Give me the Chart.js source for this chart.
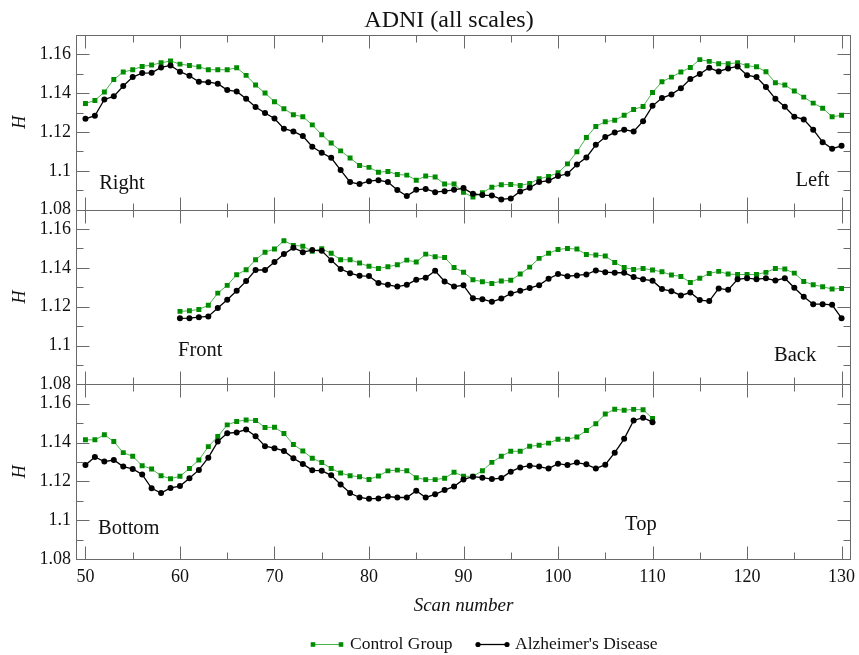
<!DOCTYPE html>
<html>
<head>
<meta charset="utf-8">
<title>ADNI (all scales)</title>
<script src="https://cdn.jsdelivr.net/npm/chart.js@4/dist/chart.umd.min.js"></script>
<style>
  html, body { margin: 0; padding: 0; background: #ffffff; }
  canvas { display: block; }
</style>
</head>
<body>
<canvas id="chart" width="859" height="655"></canvas>
<script>
// Scan numbers covered by each view
const scansRightLeft = [50,51,52,53,54,55,56,57,58,59,60,61,62,63,64,65,66,67,68,69,70,71,72,73,74,75,76,77,78,79,80,81,82,83,84,85,86,87,88,89,90,91,92,93,94,95,96,97,98,99,100,101,102,103,104,105,106,107,108,109,110,111,112,113,114,115,116,117,118,119,120,121,122,123,124,125,126,127,128,129,130];
const scansFrontBack = [60,61,62,63,64,65,66,67,68,69,70,71,72,73,74,75,76,77,78,79,80,81,82,83,84,85,86,87,88,89,90,91,92,93,94,95,96,97,98,99,100,101,102,103,104,105,106,107,108,109,110,111,112,113,114,115,116,117,118,119,120,121,122,123,124,125,126,127,128,129,130];
const scansBottomTop = [50,51,52,53,54,55,56,57,58,59,60,61,62,63,64,65,66,67,68,69,70,71,72,73,74,75,76,77,78,79,80,81,82,83,84,85,86,87,88,89,90,91,92,93,94,95,96,97,98,99,100,101,102,103,104,105,106,107,108,109,110];

// Hurst exponent H, right -> left direction
const controlRightLeft = [1.1347,1.1363,1.1406,1.1471,1.1509,1.1521,1.1538,1.1545,1.1557,1.1566,1.1550,1.1543,1.1536,1.1521,1.1521,1.1521,1.1531,1.1492,1.1442,1.1401,1.1356,1.1320,1.1289,1.1279,1.1237,1.1186,1.1143,1.1103,1.1066,1.1028,1.1018,1.0993,1.0997,1.0981,1.0978,1.0952,1.0973,1.0968,1.0932,1.0932,1.0889,1.0865,1.0887,1.0916,1.0928,1.0930,1.0925,1.0935,1.0959,1.0971,1.0990,1.1036,1.1098,1.1172,1.1229,1.1253,1.1261,1.1286,1.1316,1.1332,1.1404,1.1459,1.1483,1.1509,1.1533,1.1573,1.1564,1.1552,1.1552,1.1557,1.1542,1.1536,1.1511,1.1454,1.1442,1.1411,1.1380,1.1349,1.1323,1.1279,1.1286];
const adRightLeft = [1.1268,1.1284,1.1368,1.1384,1.1437,1.1483,1.1504,1.1505,1.1533,1.1543,1.1511,1.1490,1.1459,1.1457,1.1449,1.1416,1.1409,1.1371,1.1329,1.1298,1.1270,1.1217,1.1203,1.1179,1.1124,1.1093,1.1067,1.1004,1.0942,1.0932,1.0947,1.0952,1.0942,1.0901,1.0870,1.0902,1.0907,1.0890,1.0895,1.0902,1.0911,1.0882,1.0875,1.0873,1.0853,1.0858,1.0894,1.0913,1.0942,1.0950,1.0973,1.0985,1.1033,1.1069,1.1134,1.1174,1.1198,1.1212,1.1203,1.1256,1.1335,1.1375,1.1394,1.1426,1.1473,1.1499,1.1531,1.1512,1.1528,1.1538,1.1493,1.1483,1.1432,1.1371,1.1330,1.1279,1.1265,1.1212,1.1148,1.1114,1.1129];

// Front -> back direction
const controlFrontBack = [1.1176,1.1179,1.1186,1.1207,1.1270,1.1310,1.1365,1.1390,1.1442,1.1481,1.1497,1.1540,1.1516,1.1512,1.1485,1.1499,1.1475,1.1442,1.1442,1.1425,1.1408,1.1397,1.1406,1.1416,1.1440,1.1430,1.1471,1.1457,1.1454,1.1402,1.1378,1.1339,1.1329,1.1320,1.1332,1.1336,1.1368,1.1404,1.1449,1.1475,1.1495,1.1500,1.1497,1.1469,1.1466,1.1461,1.1428,1.1402,1.1392,1.1397,1.1389,1.1380,1.1363,1.1356,1.1325,1.1347,1.1371,1.1382,1.1368,1.1366,1.1366,1.1366,1.1377,1.1397,1.1394,1.1373,1.1330,1.1313,1.1303,1.1291,1.1294];
const adFrontBack = [1.1140,1.1141,1.1146,1.1150,1.1193,1.1236,1.1282,1.1332,1.1389,1.1389,1.1430,1.1471,1.1504,1.1481,1.1492,1.1488,1.1440,1.1394,1.1373,1.1359,1.1358,1.1322,1.1313,1.1304,1.1313,1.1339,1.1349,1.1385,1.1330,1.1304,1.1310,1.1243,1.1239,1.1225,1.1242,1.1268,1.1282,1.1296,1.1311,1.1344,1.1368,1.1357,1.1361,1.1366,1.1387,1.1378,1.1375,1.1375,1.1353,1.1341,1.1334,1.1291,1.1280,1.1258,1.1273,1.1234,1.1229,1.1294,1.1287,1.1341,1.1347,1.1342,1.1346,1.1335,1.1347,1.1298,1.1251,1.1213,1.1213,1.1210,1.1141];

// Bottom -> top direction
const controlBottomTop = [1.1414,1.1414,1.1440,1.1405,1.1348,1.1329,1.1281,1.1264,1.1229,1.1214,1.1226,1.1266,1.1310,1.1379,1.1431,1.1491,1.1509,1.1516,1.1514,1.1478,1.1479,1.1447,1.1390,1.1357,1.1319,1.1297,1.1266,1.1243,1.1229,1.1224,1.1210,1.1228,1.1254,1.1258,1.1255,1.1219,1.1209,1.1209,1.1216,1.1247,1.1226,1.1226,1.1255,1.1298,1.1329,1.1355,1.1355,1.1381,1.1386,1.1397,1.1417,1.1417,1.1429,1.1462,1.1497,1.1547,1.1572,1.1566,1.1571,1.1569,1.1524];
const adBottomTop = [1.1284,1.1326,1.1302,1.1310,1.1276,1.1264,1.1236,1.1164,1.1140,1.1166,1.1176,1.1216,1.1259,1.1322,1.1405,1.1448,1.1452,1.1467,1.1433,1.1381,1.1371,1.1357,1.1319,1.1290,1.1257,1.1255,1.1231,1.1184,1.1140,1.1117,1.1110,1.1112,1.1122,1.1117,1.1117,1.1152,1.1117,1.1133,1.1155,1.1174,1.1210,1.1224,1.1219,1.1212,1.1217,1.1250,1.1272,1.1281,1.1276,1.1266,1.1291,1.1284,1.1297,1.1288,1.1266,1.1286,1.1348,1.1419,1.1514,1.1528,1.1505];

// Axis ticks
const xTickValues = [50,55,60,65,70,75,80,85,90,95,100,105,110,115,120,125,130];
const xTickLabels = ['50','60','70','80','90','100','110','120','130'];
const yTickValues = [1.08,1.09,1.10,1.11,1.12,1.13,1.14,1.15,1.16,1.17];
const yTickLabels = ['1.08','1.1','1.12','1.14','1.16'];

const seriesNames = ['Control Group', "Alzheimer's Disease"];

const FONT = "'Liberation Serif', 'Times New Roman', serif";
const GREEN = '#008c00';
const GREEN_LINE = 'rgba(30,160,30,0.8)';
const BLACK = '#000000';
const FRAME = '#6a6a6a';
const TEXT = '#111111';

// Annotations placed in axis units of each panel
const panelNotes = [
  { axis: 'yR', text: 'Right',  x: 51.45,  y: 1.0904, align: 'left'  },
  { axis: 'yR', text: 'Left',   x: 128.73, y: 1.0921, align: 'right' },
  { axis: 'yF', text: 'Front',  x: 59.8,   y: 1.0944, align: 'left'  },
  { axis: 'yF', text: 'Back',   x: 127.32, y: 1.0918, align: 'right' },
  { axis: 'yB', text: 'Bottom', x: 51.33,  y: 1.0930, align: 'left'  },
  { axis: 'yB', text: 'Top',    x: 107.1,  y: 1.0949, align: 'left'  }
];

function points(xs, ys) {
  return ys.map((v, i) => ({ x: xs[i], y: v }));
}

function controlSet(xs, ys, axis) {
  return {
    label: seriesNames[0], data: points(xs, ys), yAxisID: axis, order: 1,
    borderColor: GREEN_LINE, borderWidth: 1, backgroundColor: GREEN,
    pointStyle: 'rect', pointRadius: 3.5, pointBackgroundColor: GREEN,
    pointBorderWidth: 0, tension: 0, fill: false
  };
}
function adSet(xs, ys, axis) {
  return {
    label: seriesNames[1], data: points(xs, ys), yAxisID: axis, order: 0,
    borderColor: BLACK, borderWidth: 1.3, backgroundColor: BLACK,
    pointStyle: 'circle', pointRadius: 3, pointBackgroundColor: BLACK,
    pointBorderWidth: 0, tension: 0, fill: false
  };
}

function yLabel(v) {
  const hundredths = Math.round(v * 100);
  if (hundredths % 2 !== 0 || hundredths > 116) return '';
  return yTickLabels[(hundredths - 108) / 2];
}

function panelAxis(weight) {
  return {
    type: 'linear', position: 'left', stack: 'panels', stackWeight: 1, weight: weight,
    min: 1.08, max: 1.17,
    grid: { display: false, drawTicks: false }, border: { display: false },
    afterBuildTicks: s => { s.ticks = yTickValues.map(v => ({ value: v })); },
    afterFit: s => { s.width = 76; },
    ticks: { autoSkip: false, padding: 5, color: TEXT, font: { family: FONT, size: 18 }, callback: v => yLabel(v) },
    title: { display: true, text: 'H', color: TEXT, font: { family: FONT, size: 18, style: 'italic' }, padding: { top: 9, bottom: 0 } }
  };
}

// Frames, inward ticks, panel notes, title and legend
const decorations = {
  id: 'decorations',
  beforeDatasetsDraw(chart) {
    const { ctx, chartArea, scales } = chart;
    const x = scales.x;
    ctx.save();
    ctx.strokeStyle = FRAME;
    ctx.lineWidth = 1;
    ['yR', 'yF', 'yB'].forEach(id => {
      const s = scales[id];
      const top = Math.round(s.getPixelForValue(1.17)) + 0.5;
      const bot = Math.round(s.getPixelForValue(1.08)) + 0.5;
      const left = Math.round(chartArea.left) + 0.5;
      const right = Math.round(chartArea.right) - 0.5;
      ctx.strokeRect(left, top, right - left, bot - top);
      ctx.beginPath();
      xTickValues.forEach(v => {
        const px = Math.round(x.getPixelForValue(v)) + 0.5;
        const len = v % 10 === 0 ? 13 : 7;
        ctx.moveTo(px, top); ctx.lineTo(px, top + len);
        ctx.moveTo(px, bot); ctx.lineTo(px, bot - len);
      });
      yTickValues.forEach(v => {
        const py = Math.round(s.getPixelForValue(v)) + 0.5;
        const len = Math.round(v * 100) % 2 === 0 ? 13 : 7;
        ctx.moveTo(left, py); ctx.lineTo(left + len, py);
        ctx.moveTo(right, py); ctx.lineTo(right - len, py);
      });
      ctx.stroke();
    });
    ctx.restore();
  },
  afterDraw(chart) {
    const { ctx, scales } = chart;
    ctx.save();
    ctx.fillStyle = TEXT;
    ctx.textBaseline = 'alphabetic';

    ctx.font = '20.5px ' + FONT;
    panelNotes.forEach(n => {
      ctx.textAlign = n.align;
      ctx.fillText(n.text, scales.x.getPixelForValue(n.x), scales[n.axis].getPixelForValue(n.y));
    });

    ctx.font = '24px ' + FONT;
    ctx.textAlign = 'center';
    ctx.fillText('ADNI (all scales)', 449, 26.7);

    // legend: line with a marker at each end, then the series name
    const items = [
      { x0: 313, x1: 341, tx: 350, set: chart.data.datasets[0] },
      { x0: 478, x1: 507, tx: 515, set: chart.data.datasets[1] }
    ];
    const ly = 644.5;
    ctx.font = '17.5px ' + FONT;
    ctx.textAlign = 'left';
    items.forEach(it => {
      const d = it.set;
      ctx.strokeStyle = d.borderColor;
      ctx.lineWidth = d.borderWidth;
      ctx.beginPath();
      ctx.moveTo(it.x0, ly); ctx.lineTo(it.x1, ly);
      ctx.stroke();
      ctx.fillStyle = d.pointBackgroundColor;
      [it.x0, it.x1].forEach(px => {
        ctx.beginPath();
        if (d.pointStyle === 'rect') { ctx.rect(px - 2.3, ly - 2.3, 4.6, 4.6); }
        else { ctx.arc(px, ly, 2.6, 0, Math.PI * 2); }
        ctx.fill();
      });
      ctx.fillStyle = TEXT;
      ctx.fillText(it.set.label, it.tx, 648.5);
    });
    ctx.restore();
  }
};

new Chart(document.getElementById('chart'), {
  type: 'line',
  data: {
    datasets: [
      controlSet(scansRightLeft, controlRightLeft, 'yR'),
      adSet(scansRightLeft, adRightLeft, 'yR'),
      controlSet(scansFrontBack, controlFrontBack, 'yF'),
      adSet(scansFrontBack, adFrontBack, 'yF'),
      controlSet(scansBottomTop, controlBottomTop, 'yB'),
      adSet(scansBottomTop, adBottomTop, 'yB')
    ]
  },
  options: {
    responsive: false,
    animation: false,
    layout: { padding: { top: 35, right: 8, bottom: 0, left: 0 } },
    plugins: { legend: { display: false }, title: { display: false }, tooltip: { enabled: false } },
    scales: {
      x: {
        type: 'linear', position: 'bottom', min: 49, max: 131,
        grid: { display: false, drawTicks: false }, border: { display: false },
        afterBuildTicks: s => { s.ticks = xTickValues.map(v => ({ value: v })); },
        afterFit: s => { s.height = 96; s.paddingLeft = 0; s.paddingRight = 0; },
        ticks: { autoSkip: false, maxRotation: 0, padding: 7, color: TEXT, font: { family: FONT, size: 18 },
                 callback: v => (v % 10 === 0 ? xTickLabels[(v - 50) / 10] : '') },
        title: { display: true, text: 'Scan number', color: TEXT, font: { family: FONT, size: 19, style: 'italic' }, padding: { top: 0, bottom: 38 } }
      },
      yR: panelAxis(3),
      yF: panelAxis(2),
      yB: panelAxis(1)
    }
  },
  plugins: [decorations]
});
</script>
</body>
</html>
